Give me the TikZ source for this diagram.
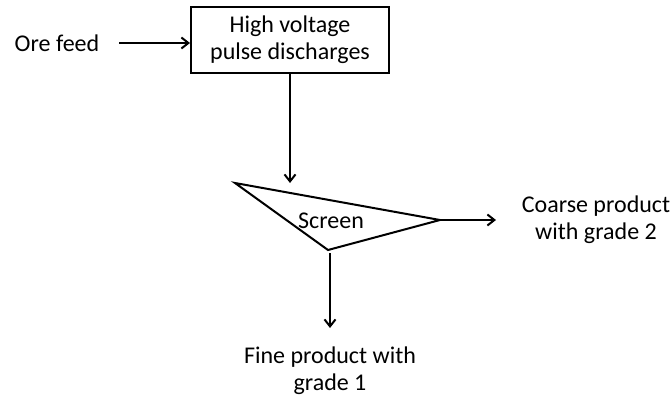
\documentclass[tikz,border=0pt]{standalone}
\usepackage{fontspec}
\setmainfont{Carlito}
\usetikzlibrary{arrows.meta, positioning}

\begin{document}
\begin{tikzpicture}[
    x=1pt, y=-1pt,
    >={Straight Barb[length=7pt, width=11pt]},
    lbl/.style ={align=center, inner sep=0pt,
                 font=\fontsize{24}{27}\selectfont},
    unit/.style={draw, line width=2pt, align=center, inner sep=0pt,
                 minimum width=198pt, minimum height=66pt,
                 font=\fontsize{24}{27}\selectfont},
    flow/.style={->, line width=2pt},
]
\useasboundingbox (0,0) rectangle (671,398);
% process unit and feed
\node[unit] (hvpd) at (290,40) {High voltage\\pulse discharges};
\node[lbl] (ore) at (57,43) {Ore feed};
% screen (triangle drawn from corners)
\coordinate (scrA) at (235,183);
\coordinate (scrB) at (440,220);
\coordinate (scrC) at (328,250);
\draw[line width=2pt, line join=miter] (scrA) -- (scrB) -- (scrC) -- cycle;
\node[lbl] (scr) at (331,221) {Screen};
% products
\node[lbl] (coarse) at (596,220) {Coarse product\\with grade 2};
\node[lbl] (fine) at (330,371) {Fine product with\\grade 1};
\coordinate (scrin) at (290,183);
\coordinate (coarsein) at (496,220);
\coordinate (finein) at (330,328);
\draw[flow] (ore.east) ++(20,0) coordinate (orestart) -- (hvpd.west |- orestart);
\draw[flow] (hvpd.south -| scrin) -- (scrin);
\draw[flow] (scrB) -- (coarsein);
\draw[flow] (scrC) ++(2,3) coordinate (finestart) -- (finein);
\end{tikzpicture}
\end{document}
